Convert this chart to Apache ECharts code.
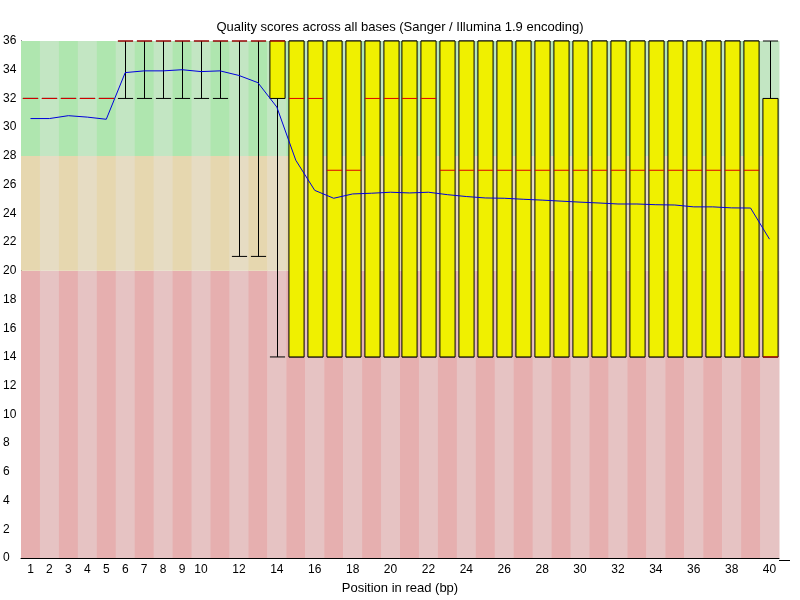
<!DOCTYPE html>
<html lang="en">
<head>
    <meta charset="UTF-8">
    <title>Quality scores across all bases</title>
    <script src="https://cdn.jsdelivr.net/npm/echarts@6/dist/echarts.min.js"></script>
    <style>
        html, body { margin: 0; padding: 0; background: #fff; }
        #main { width: 800px; height: 600px; }
    </style>
</head>
<body>
<div id="main"></div>
<script>
    // positions in read (bp)
    const positions = ['1', '2', '3', '4', '5', '6', '7', '8', '9', '10',
        '11', '12', '13', '14', '15', '16', '17', '18', '19', '20',
        '21', '22', '23', '24', '25', '26', '27', '28', '29', '30',
        '31', '32', '33', '34', '35', '36', '37', '38', '39', '40'];

    // per-position quality stats
    const p10 = [32, 32, 32, 32, 32, 32, 32, 32, 32, 32,
        32, 21, 21, 14, 14, 14, 14, 14, 14, 14,
        14, 14, 14, 14, 14, 14, 14, 14, 14, 14,
        14, 14, 14, 14, 14, 14, 14, 14, 14, 14];
    const lowerQuartile = [32, 32, 32, 32, 32, 36, 36, 36, 36, 36,
        36, 36, 36, 32, 14, 14, 14, 14, 14, 14,
        14, 14, 14, 14, 14, 14, 14, 14, 14, 14,
        14, 14, 14, 14, 14, 14, 14, 14, 14, 14];
    const median = [32, 32, 32, 32, 32, 36, 36, 36, 36, 36,
        36, 36, 36, 36, 32, 32, 27, 27, 32, 32,
        32, 32, 27, 27, 27, 27, 27, 27, 27, 27,
        27, 27, 27, 27, 27, 27, 27, 27, 27, 14];
    const upperQuartile = [32, 32, 32, 32, 32, 36, 36, 36, 36, 36,
        36, 36, 36, 36, 36, 36, 36, 36, 36, 36,
        36, 36, 36, 36, 36, 36, 36, 36, 36, 36,
        36, 36, 36, 36, 36, 36, 36, 36, 36, 32];
    const p90 = [32, 32, 32, 32, 32, 36, 36, 36, 36, 36,
        36, 36, 36, 36, 36, 36, 36, 36, 36, 36,
        36, 36, 36, 36, 36, 36, 36, 36, 36, 36,
        36, 36, 36, 36, 36, 36, 36, 36, 36, 36];
    const mean = [30.6, 30.6, 30.8, 30.7, 30.55, 33.8, 33.92, 33.92, 34.0, 33.87,
        33.92, 33.6, 33.1, 31.4, 27.7, 25.6, 25.05, 25.35, 25.4, 25.47,
        25.42, 25.47, 25.3, 25.17, 25.07, 25.05, 24.98, 24.92, 24.85, 24.78,
        24.72, 24.65, 24.65, 24.6, 24.58, 24.45, 24.45, 24.38, 24.37, 22.2];

    // background quality zones
    const zoneEdges = [0, 20, 28, 36];
    const zoneColors = [
        ['rgb(230,175,175)', 'rgb(230,195,195)'],
        ['rgb(230,215,175)', 'rgb(230,220,195)'],
        ['rgb(175,230,175)', 'rgb(195,230,195)']
    ];

    const myChart = echarts.init(document.getElementById('main'));

    const boxData = positions.map(function (p, i) {
        return [i, p10[i], lowerQuartile[i], median[i], upperQuartile[i], p90[i]];
    });

    const option = {
        animation: false,
        textStyle: { fontFamily: 'Liberation Sans', color: '#000' },
        title: {
            text: 'Quality scores across all bases (Sanger / Illumina 1.9 encoding)',
            left: 'center',
            top: 16,
            textStyle: { fontSize: 13, fontWeight: 'normal', color: '#000', fontFamily: 'Liberation Sans' }
        },
        grid: { left: 20, right: 21, top: 41, bottom: 40 },
        xAxis: {
            type: 'category',
            data: positions,
            boundaryGap: true,
            name: 'Position in read (bp)',
            nameLocation: 'middle',
            nameGap: 24,
            nameTextStyle: { fontSize: 13, color: '#000' },
            axisLine: { lineStyle: { color: '#000', width: 1 } },
            axisTick: { show: false },
            splitLine: { show: false },
            axisLabel: {
                fontSize: 12,
                color: '#000',
                margin: 6,
                interval: function (idx, value) {
                    return idx < 10 || Number(value) % 2 === 0;
                }
            }
        },
        yAxis: {
            type: 'value',
            min: 0,
            max: 36,
            interval: 2,
            axisLine: { show: true, lineStyle: { color: '#000', width: 1 } },
            axisTick: { show: false },
            splitLine: { show: false },
            axisLabel: { fontSize: 12, color: '#000', align: 'left', margin: 18 }
        },
        graphic: [{
            type: 'line',
            shape: { x1: 779, y1: 560.5, x2: 790, y2: 560.5 },
            style: { stroke: '#000', lineWidth: 1 },
            z: 10
        }],
        series: [
            {
                // alternating background zones
                type: 'custom',
                z: 1,
                silent: true,
                data: positions.map(function (p, i) { return [i]; }),
                renderItem: function (params, api) {
                    const i = api.value(0);
                    const w = api.size([1, 0])[0];
                    const cx = api.coord([i, 0])[0];
                    const children = [];
                    for (let k = 0; k < zoneColors.length; k++) {
                        const top = api.coord([i, zoneEdges[k + 1]])[1];
                        const bot = api.coord([i, zoneEdges[k]])[1];
                        children.push({
                            type: 'rect',
                            shape: { x: cx - w / 2, y: top, width: w + 0.5, height: bot - top },
                            style: { fill: zoneColors[k][i % 2] }
                        });
                    }
                    return { type: 'group', children: children };
                }
            },
            {
                // box plot: whiskers, box, median
                type: 'custom',
                z: 3,
                silent: true,
                data: boxData,
                renderItem: function (params, api) {
                    const i = api.value(0);
                    const w = api.size([1, 0])[0] * 0.8;
                    const cx = Math.round(api.coord([i, 0])[0]) + 0.5;
                    const yLo = api.coord([i, api.value(1)])[1];
                    const yQ1 = api.coord([i, api.value(2)])[1];
                    const yMed = api.coord([i, api.value(3)])[1];
                    const yQ3 = api.coord([i, api.value(4)])[1];
                    const yHi = api.coord([i, api.value(5)])[1];
                    const x0 = cx - w / 2;
                    const x1 = cx + w / 2;
                    const black = { stroke: '#000', lineWidth: 1 };
                    const children = [
                        { type: 'line', shape: { x1: cx, y1: yLo, x2: cx, y2: yHi }, style: black },
                        { type: 'line', shape: { x1: x0, y1: yLo, x2: x1, y2: yLo }, style: black },
                        { type: 'line', shape: { x1: x0, y1: yHi, x2: x1, y2: yHi }, style: black }
                    ];
                    if (yQ1 - yQ3 > 0.5) {
                        children.push({
                            type: 'rect',
                            shape: { x: x0, y: yQ3, width: w, height: yQ1 - yQ3 },
                            style: { fill: 'rgb(240,240,0)', stroke: '#000', lineWidth: 1 }
                        });
                    }
                    children.push({
                        type: 'line',
                        shape: { x1: x0, y1: yMed, x2: x1, y2: yMed },
                        style: { stroke: 'rgb(220,0,0)', lineWidth: 1 }
                    });
                    return { type: 'group', children: children };
                }
            },
            {
                // mean quality
                type: 'line',
                z: 5,
                silent: true,
                data: mean,
                symbol: 'none',
                lineStyle: { color: 'rgb(0,0,220)', width: 1 }
            }
        ]
    };

    myChart.setOption(option);
</script>
</body>
</html>
